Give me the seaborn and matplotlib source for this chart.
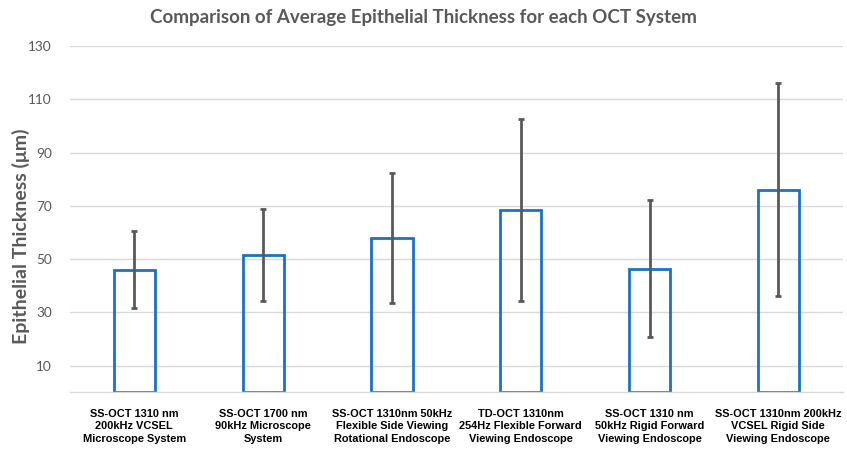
import matplotlib
matplotlib.use("Agg")
import matplotlib.pyplot as plt
import seaborn as sns
import pandas as pd

systems = [
    "SS-OCT 1310 nm\n200kHz VCSEL\nMicroscope System",
    "SS-OCT 1700 nm\n90kHz Microscope\nSystem",
    "SS-OCT 1310nm 50kHz\nFlexible Side Viewing\nRotational Endoscope",
    "TD-OCT 1310nm\n254Hz Flexible Forward\nViewing Endoscope",
    "SS-OCT 1310 nm\n50kHz Rigid Forward\nViewing Endoscope",
    "SS-OCT 1310nm 200kHz\nVCSEL Rigid Side\nViewing Endoscope",
]
mean_thickness = [46.0, 51.5, 58.0, 68.5, 46.5, 76.0]
std_thickness = [14.5, 17.3, 24.5, 34.3, 25.7, 40.0]
yticks = [10, 30, 50, 70, 90, 110, 130]

sns.set_theme(style="white")
plt.rcParams["font.family"] = ["Lato", "DejaVu Sans"]

df = pd.DataFrame({"system": systems, "thickness": mean_thickness, "sd": std_thickness})

fig = plt.figure(figsize=(8.47, 4.53), dpi=100)
ax = fig.add_axes([0.0826, 0.134, 0.9124, 0.764])

blue = "#1873c8"
sns.barplot(data=df, x="system", y="thickness", ax=ax, fill=False, color=blue,
            linewidth=2.0, width=0.32, errorbar=None, saturation=1)
for p in ax.patches:
    p.set_edgecolor(blue)
    p.set_facecolor("none")

ax.errorbar(x=range(len(df)), y=df["thickness"], yerr=df["sd"], fmt="none",
            ecolor="#595959", elinewidth=2.0, capsize=2.2, capthick=2.0, zorder=5)

ax.set_ylim(0, 130)
ax.set_xlim(-0.5, len(df) - 0.5)
ax.set_yticks(yticks)
ax.yaxis.grid(True, color="#d9d9d9", linewidth=1.0)
ax.set_axisbelow(True)
for s in ["top", "right", "left"]:
    ax.spines[s].set_visible(False)
ax.spines["bottom"].set_color("#d9d9d9")
ax.spines["bottom"].set_linewidth(1.0)

ax.tick_params(axis="y", length=0, labelsize=9.8, labelcolor="#595959", pad=13)
ax.tick_params(axis="x", length=0, pad=12)
for lab in ax.get_xticklabels():
    lab.set_fontfamily(["Liberation Sans", "DejaVu Sans"])
    lab.set_fontweight("bold")
    lab.set_fontsize(7.9)
    lab.set_color("black")
    lab.set_linespacing(1.3)

ax.set_xlabel("")
ax.set_ylabel("")
fig.text(21 / 847, 1 - 236 / 453, "Epithelial Thickness (μm)", rotation=90,
         ha="center", va="center", fontsize=14, fontweight="bold", color="#595959")
fig.suptitle("Comparison of Average Epithelial Thickness for each OCT System",
             fontsize=13.5, fontweight="bold", color="#595959", x=0.5, y=0.98)

fig.savefig("out.png", dpi=100)
